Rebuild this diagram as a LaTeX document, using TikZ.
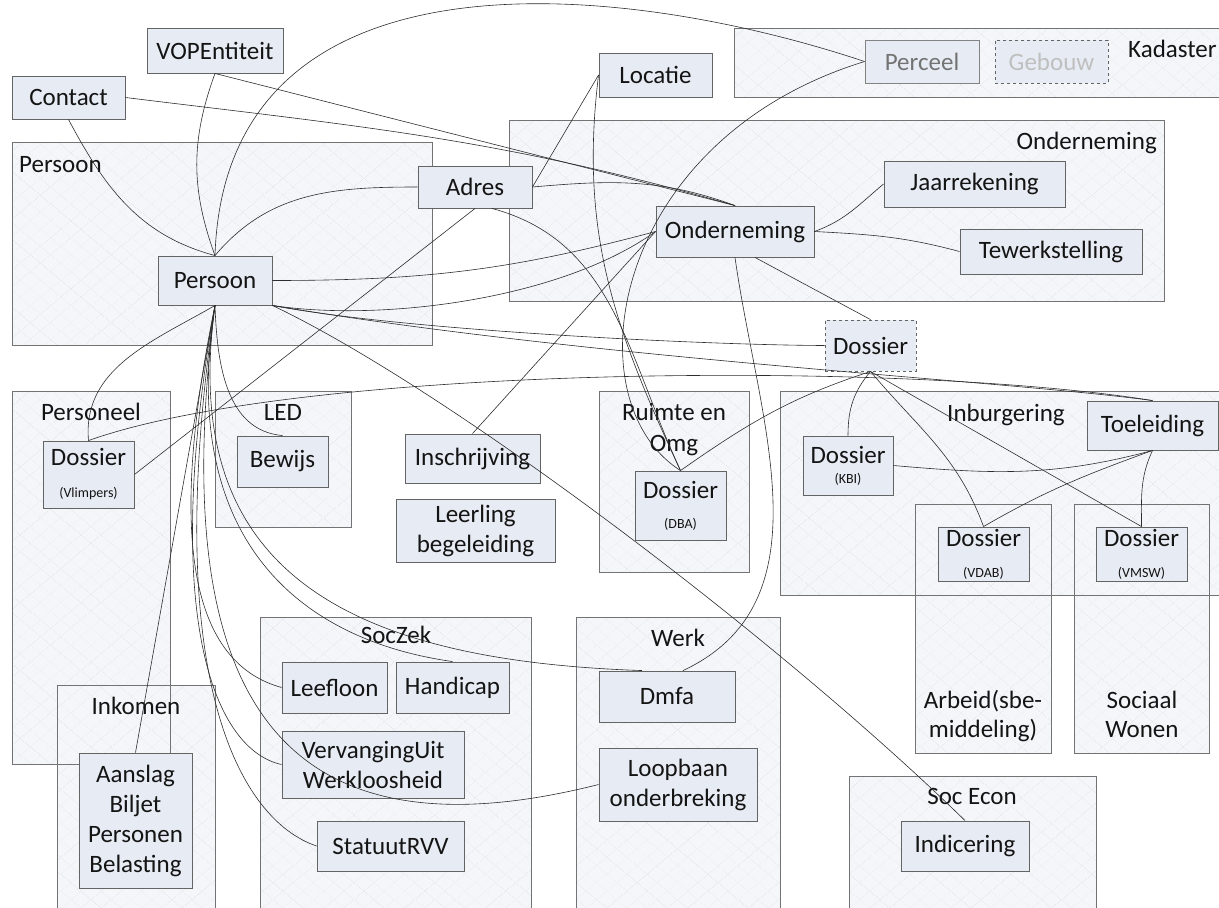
\documentclass[tikz,border=0pt]{standalone}
\usepackage{fontspec}
\setmainfont{Carlito}
\usetikzlibrary{calc,patterns.meta}
\definecolor{entfill}{RGB}{231,235,243}
\definecolor{contfill}{RGB}{244,246,249}
\definecolor{patc}{RGB}{229,232,238}
\definecolor{entline}{RGB}{100,100,100}
\definecolor{contline}{RGB}{115,115,115}
\definecolor{wirec}{RGB}{45,45,45}
\definecolor{txt}{RGB}{20,20,20}
\begin{document}
\begin{tikzpicture}[x=1pt,y=1pt,
  ent/.style={draw=entline, fill=entfill, line width=0.9pt, inner sep=0pt, font=\fontsize{25}{30}\selectfont, align=center, text=txt},
  contf/.style={fill=contfill,
     postaction={pattern={Lines[angle=40,distance=13pt,line width=0.6pt]}, pattern color=patc},
     postaction={pattern={Lines[angle=-40,distance=13pt,line width=0.6pt]}, pattern color=patc}},
  contd/.style={draw=contline, line width=1pt},
  clab/.style={font=\fontsize{25}{30}\selectfont, text=txt, inner sep=0pt},
  wire/.style={draw=wirec, line width=0.6pt}]
\useasboundingbox (0,0) rectangle (1219,-908);
% container fills
\foreach \a/\b/\c/\d in {12/142/432/345, 509/120/1164/301, 734/28/1240/97, 12/391/170/764, 215/391/351/527, 599/391/749/572, 780/391/1240/595, 915/504/1051/753, 1074/504/1209/753, 849/776/1096/930, 260/617/531/930, 576/617/780/930, 57/685/215/930}
  {\path[contf] (\a,-\b) rectangle (\c,-\d);}
\foreach \a/\b/\c/\d in {12/142/432/345, 509/120/1164/301, 734/28/1240/97, 12/391/170/764, 215/391/351/527, 599/391/749/572, 780/391/1240/595, 915/504/1051/753, 1074/504/1209/753, 849/776/1096/930, 260/617/531/930, 576/617/780/930, 57/685/215/930}
  {\path[contd] (\a,-\b) rectangle (\c,-\d);}
% container labels
\node[clab, anchor=base west] (lPers) at (19,-172) {Persoon};
\node[clab, anchor=base east] (lOnd) at (1157,-149) {Onderneming};
\node[clab, anchor=base west] (lKad) at (1128,-57) {Kadaster};
\node[clab, anchor=base] (lPsn) at (91,-420) {Personeel};
\node[clab, anchor=base] (lLED) at (283,-420) {LED};
\node[clab, anchor=base] (lRu1) at (674,-420) {Ruimte en};
\node[clab, anchor=base] (lRu2) at (674,-451) {Omg};
\node[clab, anchor=base west] (lInb) at (947,-421) {Inburgering};
\node[clab, anchor=base] (lAr1) at (983,-708) {Arbeid(sbe-};
\node[clab, anchor=base] (lAr2) at (983,-737) {middeling)};
\node[clab, anchor=base] (lSo1) at (1142,-708) {Sociaal};
\node[clab, anchor=base] (lSo2) at (1142,-737) {Wonen};
\node[clab, anchor=base] (lSE) at (972,-804) {Soc Econ};
\node[clab, anchor=base] (lSZ) at (396,-643) {SocZek};
\node[clab, anchor=base] (lWe) at (678,-646) {Werk};
\node[clab, anchor=base] (lInk) at (136,-714) {Inkomen};
% entities
\node[ent, minimum width=136, minimum height=45] (vop) at (215,-50.5) {VOPEntiteit};
\node[ent, minimum width=113, minimum height=43] (cont) at (68.5,-97.5) {Contact};
\node[ent, minimum width=114, minimum height=49] (pers) at (215,-280.5) {Persoon};
\node[ent, minimum width=113, minimum height=44] (loc) at (655.5,-75) {Locatie};
\node[ent, minimum width=114, minimum height=42] (adres) at (475,-187) {Adres};
\node[ent, minimum width=158, minimum height=51] (ond) at (735,-231.5) {Onderneming};
\node[ent, draw=entline!80, minimum width=114, minimum height=43, text=black!55] (perc) at (922,-61.5) {Perceel};
\node[ent, dashed, minimum width=113, minimum height=43, text=black!25] (geb) at (1051.5,-61.5) {Gebouw};
\node[ent, minimum width=181, minimum height=46] (jaar) at (974.5,-184) {Jaarrekening};
\node[ent, minimum width=182, minimum height=45] (tew) at (1051,-251.5) {Tewerkstelling};
\node[ent, dashed, minimum width=91, minimum height=51] (dos) at (870.5,-345.5) {Dossier};
\node[ent, minimum width=131, minimum height=49] (toel) at (1152.5,-425.5) {Toeleiding};
\node[ent, minimum width=90, minimum height=59] (kbi) at (848,-465.5) {Dossier\\[-10pt]{\fontsize{14}{16}\selectfont (KBI)}};
\node[ent, minimum width=91, minimum height=54] (vdab) at (983.5,-554) {Dossier\\[1pt]{\fontsize{14}{16}\selectfont (VDAB)}};
\node[ent, minimum width=91, minimum height=54] (vmsw) at (1141.5,-554) {Dossier\\[1pt]{\fontsize{14}{16}\selectfont (VMSW)}};
\node[ent, minimum width=128, minimum height=50] (indic) at (965,-846) {Indicering};
\node[ent, minimum width=91, minimum height=69] (dba) at (680.5,-505.5) {Dossier\\[0pt]{\fontsize{14}{16}\selectfont (DBA)}};
\node[ent, minimum width=135, minimum height=49] (insch) at (472.5,-458.5) {Inschrijving};
\node[ent, minimum width=159, minimum height=63] (leer) at (475.5,-530.5) {Leerling\\begeleiding};
\node[ent, minimum width=91, minimum height=67] (vlim) at (88.5,-474.5) {Dossier\\[2pt]{\fontsize{14}{16}\selectfont (Vlimpers)}};
\node[ent, minimum width=91, minimum height=51] (bew) at (282.5,-461.5) {Bewijs};
\node[ent, minimum width=113, minimum height=135] (aans) at (135.5,-820.5) {Aanslag\\Biljet\\Personen\\Belasting};
\node[ent, minimum width=105, minimum height=51] (leef) at (334.5,-687.5) {Leefloon};
\node[ent, minimum width=113, minimum height=51] (handi) at (452.5,-687.5) {Handicap};
\node[ent, minimum width=182, minimum height=67] (verv) at (373,-764.5) {VervangingUit\\Werkloosheid};
\node[ent, minimum width=147, minimum height=50] (stat) at (390.5,-846) {StatuutRVV};
\node[ent, minimum width=136, minimum height=51] (dmfa) at (667,-696.5) {Dmfa};
\node[ent, minimum width=158, minimum height=73] (loop) at (678,-784.5) {Loopbaan\\onderbreking};
% connectors
\draw[wire] (cont.south) to[out=-62,in=165] (pers.north);
\draw[wire] (vop.south) to[out=-110,in=110] (pers.north);
\draw[wire] (pers.north) .. controls (225,60) and (620,20) .. (perc.west);
\draw[wire] (pers.north) to[out=50,in=180] (adres.west);
\draw[wire] (pers.east) to[out=0,in=195] (ond.west);
\draw[wire] (pers.south east) .. controls (380,-322) and (560,-300) .. (ond.west);
\draw[wire] (pers.south east) .. controls (400,-330) and (700,-345) .. (dos.west);
\draw[wire] (pers.south east) .. controls (600,-360) and (1000,-380) .. (toel.north);
\draw[wire] (pers.south east) .. controls (450,-390) and (780,-640) .. (indic.north);
\draw[wire] (pers.south) to[out=210,in=95] (vlim.north);
\draw[wire] (pers.south) to[out=-88,in=175] (bew.north);
\draw[wire] (pers.south) -- (aans.north);
\draw[wire] (pers.south) .. controls (163,-560) and (200,-665) .. (leef.west);
\draw[wire] (pers.south) .. controls (178,-540) and (300,-640) .. (handi.north);
\draw[wire] (pers.south) .. controls (180,-560) and (330,-660) .. ($(dmfa.north)+(-25,0)$);
\draw[wire] (pers.south) .. controls (160,-620) and (215,-750) .. (verv.west);
\draw[wire] (pers.south) .. controls (160,-680) and (240,-820) .. (stat.west);
\draw[wire] (pers.south) .. controls (165,-700) and (280,-865) .. (loop.west);
\draw[wire] (cont.east) to[out=-7,in=164] (ond.north);
\draw[wire] (vop.south) -- (ond.north);
\draw[wire] (adres.east) to[out=5,in=160] (ond.north);
\draw[wire] (adres.east) -- (loc.west);
\draw[wire] (loc.west) to[out=-97,in=115] (dba.north);
\draw[wire] ($(adres.south)+(17,0)$) to[out=-15,in=115] (dba.north);
\draw[wire] (perc.west) .. controls (610,-140) and (570,-400) .. (dba.north);
\draw[wire] (ond.west) -- (insch.north);
\draw[wire] (ond.east) to[out=20,in=220] (jaar.west);
\draw[wire] (ond.east) to[out=-3,in=165] (tew.west);
\draw[wire] ($(ond.south)+(20,0)$) -- (dos.north);
\draw[wire] (ond.south) to[out=-82,in=25] ($(dmfa.north)+(16,0)$);
\draw[wire] (adres.south) -- (vlim.east);
\draw[wire] (dos.south) to[out=-130,in=90] (kbi.north);
\draw[wire] (dos.south) to[out=-50,in=110] (vdab.north);
\draw[wire] (dos.south) -- (vmsw.north);
\draw[wire] (dba.north) to[out=35,in=198] (dos.south);
\draw[wire] (kbi.east) to[out=-5,in=195] (toel.south);
\draw[wire] (vdab.north) to[out=30,in=200] (toel.south);
\draw[wire] (toel.south) to[out=-115,in=90] (vmsw.north);
\draw[wire] (vlim.north) .. controls (300,-365) and (900,-360) .. (toel.north);
\end{tikzpicture}
\end{document}
